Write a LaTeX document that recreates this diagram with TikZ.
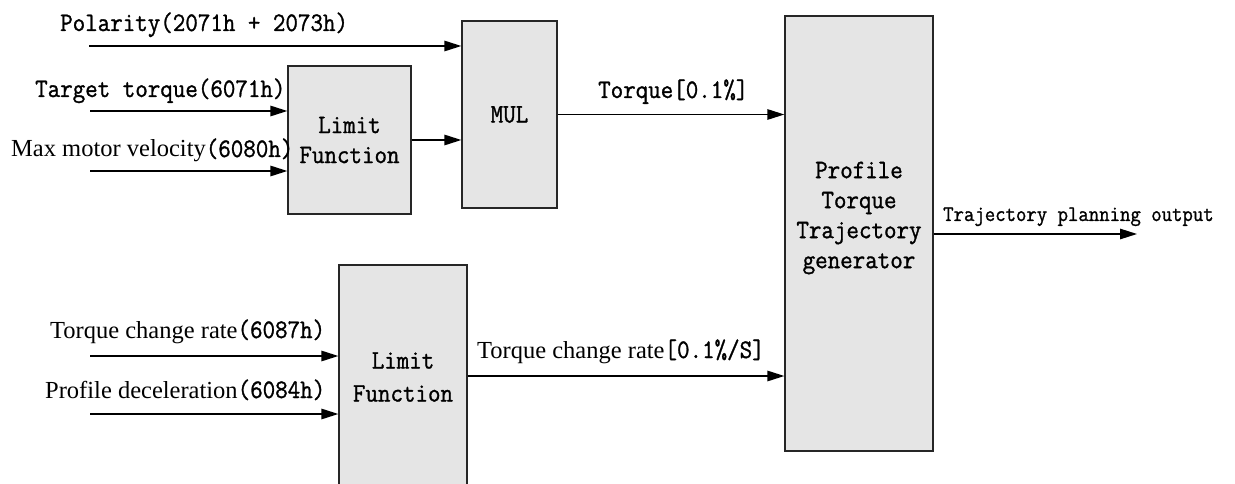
\documentclass[tikz,border=0pt]{standalone}
\usepackage{fontspec}
\setmainfont{Liberation Serif}
\newfontfamily\mtfont{Latin Modern Mono}[FakeBold=1.2]
\usetikzlibrary{arrows.meta}
\newcommand{\mt}[1]{\scalebox{1}[1.1]{\mtfont #1}}
\newcommand{\rmt}[1]{{\rmfamily\fontsize{24.5}{30}\selectfont #1}}
\begin{document}
\begin{tikzpicture}[x=1pt,y=-1pt,
  box/.style={draw=black!85,fill=black!10,line width=1.3pt,inner sep=0pt},
  conn/.style={line width=1.3pt,-{Triangle[length=17pt,width=10.5pt]}},
  lab/.style={inner sep=0pt,anchor=base west,font=\fontsize{24.3}{30}\selectfont},
  btxt/.style={inner sep=0pt,align=center,font=\fontsize{24.3}{30}\selectfont},
  small/.style={inner sep=0pt,anchor=base west,font=\fontsize{20.2}{24}\selectfont}]
\path[use as bounding box] (0,0) rectangle (1235,484);
\clip (0,0) rectangle (1235,484);
% boxes
\node[box,btxt,minimum width=123pt,minimum height=148pt] (lim1) at (349.5,140) {\mt{Limit}\\\mt{Function}};
\node[box,btxt,minimum width=95pt,minimum height=187pt] (mul) at (509.5,114.5) {\mt{MUL}};
\node[box,minimum width=148pt,minimum height=435pt] (prof) at (859,233.5) {};
\node[btxt] (proft) at (859,218) {\mt{Profile}\\\mt{Torque}\\\mt{Trajectory}\\\mt{generator}};
\node[box,minimum width=128pt,minimum height=260pt] (lim2) at (403,395) {};
\node[btxt,font=\fontsize{24.3}{33}\selectfont] (lim2t) at (403,377) {\mt{Limit}\\\mt{Function}};
% free ends
\coordinate (pol) at (89,46);
\coordinate (tt) at (90,111);
\coordinate (mv) at (90,171);
\coordinate (tcr) at (90,356);
\coordinate (pd) at (90,414);
\coordinate (out) at (1137,234);
\coordinate (l2o) at (467,376);
% connectors
\draw[conn] (pol) -- (pol -| mul.west);
\draw[conn] (tt) -- (tt -| lim1.west);
\draw[conn] (mv) -- (mv -| lim1.west);
\draw[conn] (lim1.east) -- (lim1.east -| mul.west);
\draw[conn] (mul.east) -- (mul.east -| prof.west);
\draw[conn] (tcr) -- (tcr -| lim2.west);
\draw[conn] (pd) -- (pd -| lim2.west);
\draw[conn] (l2o -| lim2.east) -- (l2o -| prof.west);
\draw[conn] (out -| prof.east) -- (out);
% labels
\node[lab] (lpol) at (60,31) {\mt{Polarity(2071h + 2073h)}};
\node[lab] (ltt) at (35,97) {\mt{Target torque(6071h)}};
\node[lab] (lmv) at (11,157) {\rmt{Max motor velocity}\mt{(6080h)}};
\node[lab] (ltq) at (598,98) {\mt{Torque[0.1\%]}};
\node[lab] (ltcr) at (50,338) {\rmt{Torque change rate}\mt{(6087h)}};
\node[lab] (lpd) at (45,398) {\rmt{Profile deceleration}\mt{(6084h)}};
\node[lab] (ltcr2) at (477,358) {\rmt{Torque change rate}\mt{[0.1\%/S]}};
\node[small] (lout) at (943,221) {\mt{Trajectory planning output}};
\end{tikzpicture}
\end{document}
